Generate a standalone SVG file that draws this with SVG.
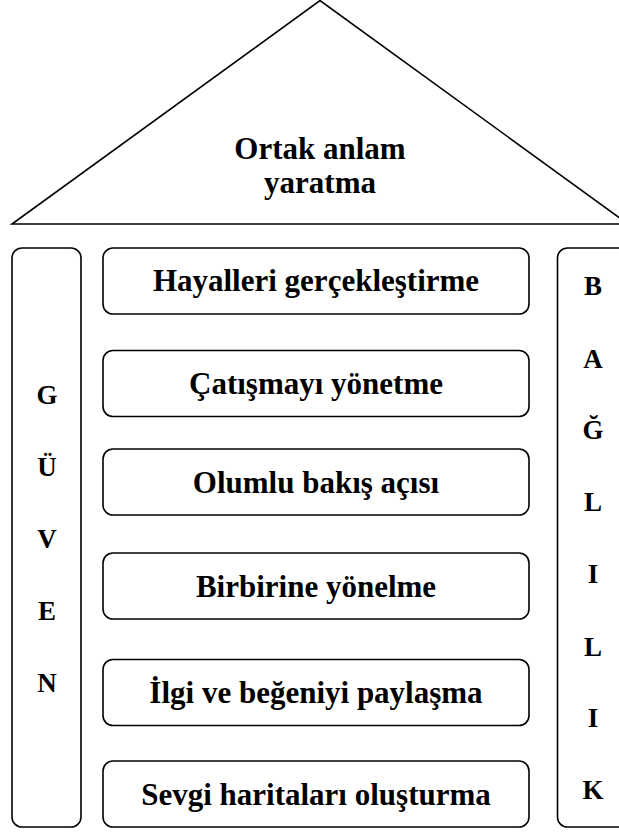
<svg xmlns="http://www.w3.org/2000/svg" width="619" height="832" viewBox="0 0 619 832">
<style>
.shape{fill:#fff;stroke:#000;stroke-width:1.6}
.t{font-family:'Liberation Serif','DejaVu Serif',serif;font-weight:700;font-size:31px;fill:#000;text-anchor:middle}
.l{font-family:'Liberation Serif','DejaVu Serif',serif;font-weight:700;font-size:27px;fill:#000;text-anchor:middle}
</style>
<rect width="619" height="832" fill="#fff"/>
<g id="roof">
<polygon class="shape" points="320,0.5 12,224 628,224"/>
<text class="t" x="320" y="159">Ortak anlam</text>
<text class="t" x="320" y="193">yaratma</text>
</g>
<g id="guven">
<rect class="shape" x="12" y="248" width="69" height="579" rx="10"/>
<text class="l" x="47" y="404">G</text>
<text class="l" x="47" y="476">Ü</text>
<text class="l" x="47" y="548">V</text>
<text class="l" x="47" y="620">E</text>
<text class="l" x="47" y="692">N</text>
</g>
<g id="baglilik">
<rect class="shape" x="557.5" y="248" width="80" height="579" rx="10"/>
<text class="l" x="593" y="295">B</text>
<text class="l" x="593" y="368">A</text>
<text class="l" x="593" y="439">Ğ</text>
<text class="l" x="593" y="511">L</text>
<text class="l" x="593" y="583">I</text>
<text class="l" x="593" y="656">L</text>
<text class="l" x="593" y="727">I</text>
<text class="l" x="593" y="799">K</text>
</g>
<g id="box1">
<rect class="shape" x="103" y="248" width="426" height="66" rx="10"/>
<text class="t" x="316" y="291">Hayalleri gerçekleştirme</text>
</g>
<g id="box2">
<rect class="shape" x="103" y="350.5" width="426" height="66" rx="10"/>
<text class="t" x="316" y="394">Çatışmayı yönetme</text>
</g>
<g id="box3">
<rect class="shape" x="103" y="449" width="426" height="66" rx="10"/>
<text class="t" x="316" y="493">Olumlu bakış açısı</text>
</g>
<g id="box4">
<rect class="shape" x="103" y="553" width="426" height="66" rx="10"/>
<text class="t" x="316" y="597">Birbirine yönelme</text>
</g>
<g id="box5">
<rect class="shape" x="103" y="659.5" width="426" height="66" rx="10"/>
<text class="t" x="316" y="703">İlgi ve beğeniyi paylaşma</text>
</g>
<g id="box6">
<rect class="shape" x="103" y="761" width="426" height="66" rx="10"/>
<text class="t" x="316" y="805">Sevgi haritaları oluşturma</text>
</g>
<g id="connectors"></g>
</svg>
